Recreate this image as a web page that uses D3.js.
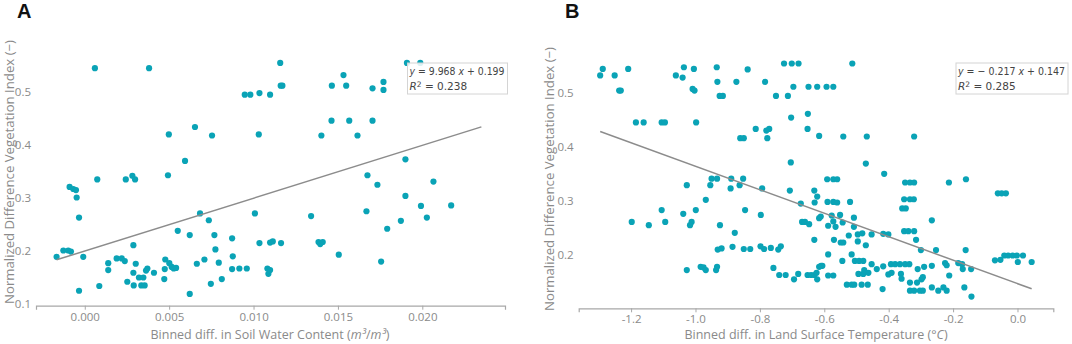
<!DOCTYPE html>
<html>
<head>
<meta charset="utf-8">
<script src="https://cdn.jsdelivr.net/npm/d3@7"></script>
<style>
  body { margin: 0; background: #fff; }
  svg { display: block; }
</style>
</head>
<body>
<svg id="chart" width="1072" height="344"></svg>
<script>
// panel A: binned soil water content diff vs NDVI
const soilPoints = [
  [0.0006,0.544],[0.00381,0.544],[0.00948,0.494],[0.00981,0.494],[0.01035,0.497],[0.01098,0.494],
  [0.00498,0.419],[0.00653,0.433],[0.00754,0.417],[0.01031,0.419],[0.00594,0.369],[0.00493,0.342],
  [0.00074,0.334],[0.00243,0.334],[0.00282,0.341],[0.00298,0.334],[-0.0009,0.320],[-0.00068,0.316],
  [-0.00052,0.314],[-0.00048,0.300],[-0.00034,0.262],[0.00683,0.270],[0.00735,0.257],[0.01008,0.270],
  [0.00551,0.237],[0.00622,0.229],[0.00768,0.229],[0.00873,0.223],[0.00288,0.210],[0.01035,0.214],
  [0.01098,0.215],[0.01114,0.217],[-0.00167,0.188],[-0.00127,0.200],[-0.00098,0.200],[-0.00082,0.198],
  [-0.00009,0.188],[0.00774,0.202],[0.00877,0.189],[0.00139,0.176],[0.00139,0.163],[0.00189,0.185],
  [0.00219,0.185],[0.00237,0.180],[0.00302,0.175],[0.00288,0.158],[0.00321,0.149],[0.00347,0.149],
  [0.00363,0.162],[0.00371,0.166],[0.0041,0.158],[0.00252,0.141],[0.0029,0.134],[0.00335,0.134],
  [0.00355,0.134],[-0.00034,0.124],[0.00086,0.133],[0.00477,0.183],[0.00501,0.176],[0.00515,0.169],
  [0.00527,0.166],[0.00541,0.167],[0.00474,0.165],[0.00471,0.146],[0.00664,0.175],[0.00709,0.183],
  [0.00794,0.177],[0.00747,0.137],[0.00812,0.146],[0.00622,0.118],[0.00873,0.165],[0.00916,0.166],
  [0.0096,0.166],[0.01082,0.166],[0.01088,0.156],[0.01098,0.163],
  [0.01158,0.554],[0.01161,0.511],[0.01171,0.511],[0.01464,0.511],[0.01533,0.531],[0.01549,0.511],
  [0.01705,0.506],[0.0177,0.518],[0.0177,0.503],[0.01909,0.554],[0.01988,0.554],[0.01462,0.445],
  [0.01567,0.445],[0.01705,0.445],[0.01402,0.417],[0.01616,0.417],[0.019,0.372],[0.01675,0.342],
  [0.01734,0.324],[0.02066,0.330],[0.019,0.303],[0.01992,0.284],[0.02171,0.285],[0.02027,0.262],
  [0.01873,0.256],[0.01792,0.241],[0.01669,0.274],[0.01341,0.265],[0.01163,0.214],[0.01385,0.216],
  [0.01395,0.212],[0.0141,0.216],[0.01505,0.192],[0.01756,0.179]
];
const soilFit = { slope: 9.968, intercept: 0.199, r2: 0.238, from: -0.00167, to: 0.0235 };
const soilXTicks = [0, 0.005, 0.010, 0.015, 0.020];
const soilYTicks = [0.1, 0.2, 0.3, 0.4, 0.5];

// panel B: binned land surface temperature diff vs NDVI
const lstPoints = [
  [-1.296,0.532],[-1.288,0.544],[-1.251,0.532],[-1.209,0.544],[-1.237,0.504],[-1.232,0.504],
  [-1.185,0.445],[-1.161,0.445],[-1.105,0.445],[-1.095,0.445],[-1.061,0.532],[-1.036,0.547],
  [-1.040,0.528],[-1.005,0.544],[-1.009,0.507],[-1.003,0.504],[-0.998,0.445],[-0.934,0.547],
  [-0.932,0.520],[-0.925,0.494],[-0.915,0.494],[-0.873,0.520],[-0.838,0.543],[-0.784,0.520],
  [-0.750,0.494],[-0.725,0.554],[-0.701,0.554],[-0.680,0.554],[-0.713,0.494],[-0.696,0.511],
  [-0.649,0.511],[-0.622,0.511],[-0.703,0.454],[-0.651,0.461],[-0.652,0.433],[-0.616,0.420],
  [-0.813,0.433],[-0.780,0.430],[-0.771,0.433],[-0.777,0.416],[-0.861,0.416],[-0.850,0.416],
  [-0.704,0.371],[-0.950,0.341],[-0.933,0.341],[-0.889,0.341],[-0.852,0.341],[-0.954,0.329],
  [-0.891,0.323],[-0.863,0.329],[-0.793,0.323],[-1.027,0.329],[-0.968,0.302],[-0.707,0.319],
  [-0.631,0.319],[-0.622,0.308],[-0.630,0.297],[-0.673,0.295],[-1.105,0.283],[-1.038,0.276],
  [-0.999,0.283],[-0.846,0.283],[-0.797,0.274],[-1.198,0.261],[-1.145,0.255],[-1.094,0.261],
  [-1.012,0.261],[-1.017,0.255],[-0.924,0.255],[-0.878,0.241],[-0.669,0.261],[-0.660,0.261],
  [-0.647,0.257],[-0.616,0.268],[-0.631,0.228],[-0.931,0.210],[-0.919,0.212],[-0.885,0.215],
  [-0.850,0.211],[-0.830,0.211],[-0.798,0.216],[-0.787,0.211],[-0.766,0.213],[-0.743,0.210],
  [-0.735,0.216],[-1.027,0.172],[-0.984,0.178],[-0.975,0.177],[-0.968,0.172],[-0.936,0.172],
  [-0.933,0.178],[-0.758,0.176],[-0.740,0.163],[-0.720,0.163],[-0.694,0.155],[-0.681,0.165],
  [-0.652,0.163],[-0.641,0.163],[-0.631,0.163],[-0.622,0.155],[-0.616,0.178],
  [-0.513,0.554],[-0.593,0.511],[-0.572,0.511],[-0.541,0.419],[-0.468,0.419],[-0.321,0.419],
  [-0.471,0.369],[-0.414,0.350],[-0.591,0.340],[-0.572,0.340],[-0.560,0.340],[-0.349,0.334],
  [-0.334,0.334],[-0.321,0.334],[-0.213,0.334],[-0.160,0.340],[-0.061,0.314],[-0.049,0.314],
  [-0.036,0.314],[-0.352,0.303],[-0.334,0.303],[-0.322,0.303],[-0.358,0.286],[-0.347,0.286],
  [-0.590,0.298],[-0.572,0.298],[-0.560,0.297],[-0.520,0.298],[-0.611,0.271],[-0.577,0.273],
  [-0.572,0.262],[-0.588,0.254],[-0.551,0.274],[-0.565,0.252],[-0.543,0.260],[-0.508,0.269],
  [-0.508,0.252],[-0.496,0.238],[-0.482,0.240],[-0.524,0.236],[-0.496,0.225],[-0.471,0.218],
  [-0.453,0.238],[-0.417,0.239],[-0.401,0.238],[-0.549,0.223],[-0.541,0.223],[-0.570,0.228],
  [-0.266,0.264],[-0.352,0.244],[-0.339,0.244],[-0.321,0.244],[-0.315,0.228],[-0.300,0.209],
  [-0.253,0.209],[-0.161,0.209],[-0.588,0.201],[-0.515,0.201],[-0.544,0.189],[-0.505,0.189],
  [-0.492,0.189],[-0.479,0.189],[-0.453,0.183],[-0.437,0.174],[-0.417,0.179],[-0.393,0.183],
  [-0.380,0.183],[-0.365,0.183],[-0.349,0.183],[-0.336,0.183],[-0.310,0.174],[-0.290,0.178],
  [-0.266,0.180],[-0.225,0.185],[-0.220,0.181],[-0.184,0.185],[-0.172,0.183],[-0.170,0.174],
  [-0.144,0.174],[-0.606,0.180],[-0.610,0.180],[-0.624,0.167],[-0.588,0.162],[-0.572,0.162],
  [-0.494,0.165],[-0.479,0.165],[-0.476,0.172],[-0.463,0.167],[-0.401,0.164],[-0.391,0.167],
  [-0.362,0.165],[-0.360,0.156],[-0.334,0.149],[-0.312,0.149],[-0.298,0.155],[-0.294,0.159],
  [-0.530,0.145],[-0.515,0.145],[-0.507,0.145],[-0.484,0.145],[-0.465,0.145],[-0.419,0.137],
  [-0.334,0.134],[-0.321,0.134],[-0.303,0.134],[-0.294,0.134],[-0.266,0.140],[-0.246,0.134],
  [-0.230,0.140],[-0.220,0.134],[-0.212,0.162],[-0.165,0.140],[-0.143,0.123],
  [-0.070,0.190],[-0.053,0.191],[-0.041,0.199],[-0.029,0.199],[-0.015,0.199],[-0.002,0.199],
  [0.001,0.187],[0.017,0.199],[0.044,0.187]
];
const lstFit = { slope: -0.217, intercept: 0.147, r2: 0.285, from: -1.296, to: 0.044 };
const lstXTicks = [-1.2, -1.0, -0.8, -0.6, -0.4, -0.2, 0.0];
const lstYTicks = [0.2, 0.3, 0.4, 0.5];

const dotColor = "#0aa3b6";
const lineColor = "#8c8c8c";
const axisColor = "#a8a8a8";
const labelColor = "#8a8a8a";
const labelFont = "'Open Sans', sans-serif";

var svg = d3.select("#chart");

function drawPanel(p) {
    var x = d3.scaleLinear().domain(p.xDomain).range([p.left, p.right]);
    var y = d3.scaleLinear().domain(p.yDomain).range([p.bottom, p.top]);
    var g = svg.append("g");

    // x axis
    var xAxis = g.append("g")
        .attr("transform", "translate(0," + p.bottom + ")")
        .call(d3.axisBottom(x).tickValues(p.xTicks).tickSize(4).tickPadding(3)
            .tickFormat(function(d) { return p.xFormat(d).replace("\u2212", "-"); }));
    xAxis.select(".domain").attr("stroke", axisColor).attr("stroke-width", 1.2);
    xAxis.selectAll(".tick line").attr("stroke", axisColor);
    xAxis.selectAll(".tick text")
        .style("font-family", labelFont).style("font-size", "11.5px").attr("fill", labelColor);

    // y axis, labels only
    var yAxis = g.append("g")
        .attr("transform", "translate(" + p.left + ",0)")
        .call(d3.axisLeft(y).tickValues(p.yTicks).tickSize(0).tickPadding(5).tickFormat(d3.format(".1f")));
    yAxis.select(".domain").remove();
    yAxis.selectAll(".tick text")
        .style("font-family", labelFont).style("font-size", "11.5px").attr("fill", labelColor);

    // points
    g.selectAll("circle.pt")
        .data(p.points)
        .enter()
        .append("circle")
        .attr("class", "pt")
        .attr("cx", function(d) { return x(d[0]); })
        .attr("cy", function(d) { return y(d[1]); })
        .attr("r", 3.1)
        .attr("fill", dotColor);

    // fitted line
    var fitX = [p.fit.from, p.fit.to];
    g.append("path")
        .datum(fitX)
        .attr("d", d3.line()
            .x(function(d) { return x(d); })
            .y(function(d) { return y(p.fit.slope * d + p.fit.intercept); }))
        .attr("fill", "none")
        .attr("stroke", lineColor)
        .attr("stroke-width", 1.5);

    // equation box
    var box = g.append("g").attr("transform", "translate(" + p.boxX + "," + p.boxY + ")");
    box.append("rect")
        .attr("width", p.boxW).attr("height", 31)
        .attr("fill", "#fff").attr("fill-opacity", 0.85)
        .attr("stroke", "#d4d4d4").attr("stroke-width", 1);
    var eq = box.append("text")
        .attr("x", 2).attr("y", 11.5)
        .style("font-family", "'DejaVu Sans', sans-serif").style("font-size", "10.5px")
        .attr("fill", "#444")
        .attr("textLength", p.boxW - 5).attr("lengthAdjust", "spacingAndGlyphs");
    eq.append("tspan").style("font-style", "italic").text("y");
    eq.append("tspan").text(p.fit.slope < 0
        ? " =  \u2212 " + Math.abs(p.fit.slope).toFixed(3) + " "
        : " = " + p.fit.slope.toFixed(3) + " ");
    eq.append("tspan").style("font-style", "italic").text("x");
    eq.append("tspan").text(" + " + p.fit.intercept.toFixed(3));
    var r2 = box.append("text")
        .attr("x", 2).attr("y", 27)
        .style("font-family", "'DejaVu Sans', sans-serif").style("font-size", "10.5px")
        .attr("fill", "#444");
    r2.append("tspan").style("font-style", "italic").text("R");
    r2.append("tspan").attr("dy", -3.5).style("font-size", "7.5px").text("2");
    r2.append("tspan").attr("dy", 3.5).text(" = " + p.fit.r2.toFixed(3));

    // axis titles
    svg.append("text")
        .attr("transform", "translate(" + p.yTitleX + "," + p.yTitleY + ") rotate(-90)")
        .attr("text-anchor", "middle")
        .style("font-family", labelFont).style("font-size", "13.2px")
        .attr("fill", labelColor)
        .text("Normalized Difference Vegetation Index (\u2212)");

    var xt = svg.append("text")
        .attr("x", p.xTitleX).attr("y", 339)
        .attr("text-anchor", "middle")
        .style("font-family", labelFont).style("font-size", "12.5px")
        .attr("fill", labelColor);
    p.xTitle(xt);

    // panel letter
    svg.append("text")
        .attr("x", p.letterX).attr("y", 18)
        .style("font-family", "'Liberation Sans', Arial, sans-serif")
        .style("font-size", "20px").style("font-weight", "bold")
        .attr("fill", "#111")
        .text(p.letter);
}

drawPanel({
    letter: "A", letterX: 17,
    points: soilPoints, fit: soilFit,
    xDomain: [-0.00289, 0.0249], yDomain: [0.0958, 0.6],
    left: 36, right: 505, top: 38.5, bottom: 305.7,
    xTicks: soilXTicks, yTicks: soilYTicks, xFormat: d3.format(".3f"),
    boxX: 407.5, boxY: 63, boxW: 100,
    yTitleX: 13.5, yTitleY: 172, xTitleX: 270,
    xTitle: function(t) {
        t.append("tspan").text("Binned diff. in Soil Water Content (");
        t.append("tspan").style("font-style", "italic").text("m\u00b3");
        t.append("tspan").text("/");
        t.append("tspan").style("font-style", "italic").text("m\u00b3");
        t.append("tspan").text(")");
    }
});

drawPanel({
    letter: "B", letterX: 565,
    points: lstPoints, fit: lstFit,
    xDomain: [-1.3627, 0.1112], yDomain: [0.1014, 0.6],
    left: 578.7, right: 1053.3, top: 38.6, bottom: 308.3,
    xTicks: lstXTicks, yTicks: lstYTicks, xFormat: d3.format(".1f"),
    boxX: 956, boxY: 63, boxW: 112,
    yTitleX: 553.5, yTitleY: 179, xTitleX: 816,
    xTitle: function(t) {
        t.append("tspan").text("Binned diff. in Land Surface Temperature (\u00b0");
        t.append("tspan").style("font-style", "italic").text("C");
        t.append("tspan").text(")");
    }
});
</script>
</body>
</html>
